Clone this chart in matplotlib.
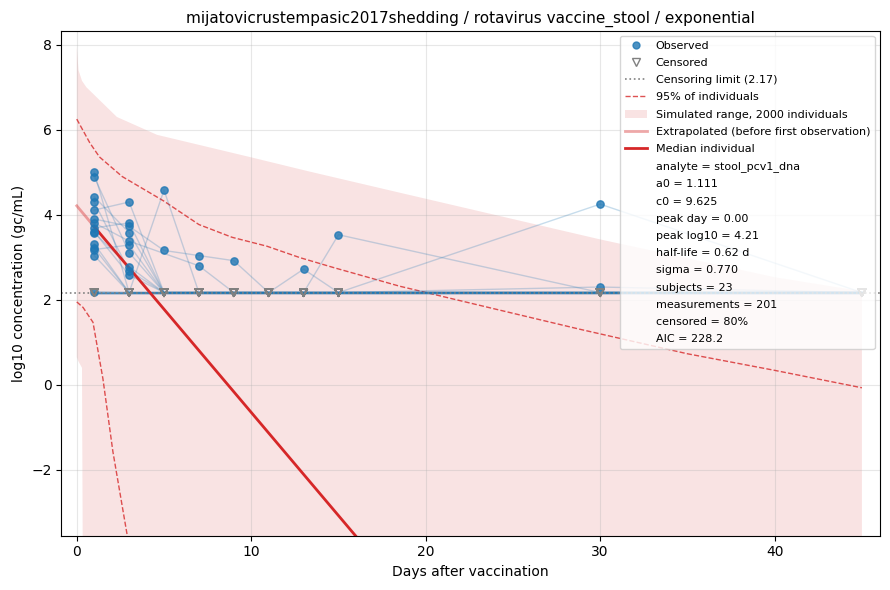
import numpy as np
import matplotlib
matplotlib.use("Agg")
import matplotlib.pyplot as plt
from matplotlib.lines import Line2D
from matplotlib.patches import Patch

# Limite de censura (log10 gc/mL)
limite = 2.17
C = -99.0  # medicion censurada (bajo el limite)
NA = np.nan  # sin medicion

dias = [1, 3, 5, 7, 9, 11, 13, 15, 30, 45]

# Trayectorias por sujeto (23 sujetos)
sujetos = [
    [5.00, C, C, C, C, C, C, C, C, C],
    [4.89, 3.11, C, C, C, C, C, C, C, C],
    [4.42, 3.58, C, C, C, C, C, C, C, C],
    [4.30, 2.68, C, C, C, C, C, C, C, C],
    [4.11, 4.30, C, C, C, C, C, C, C, C],
    [3.90, 3.73, 3.16, 3.04, 2.92, C, 2.72, C, 4.25, C],
    [3.81, 3.38, NA, 2.80, C, C, C, C, C, C],
    [3.69, 3.81, C, C, C, C, C, C, C, C],
    [3.60, 2.58, C, C, C, C, C, C, C, C],
    [3.58, 2.78, C, C, C, C, C, C, C, C],
    [3.32, C, 4.58, C, C, C, C, C, C, C],
    [3.22, C, C, C, C, C, C, C, C, C],
    [3.18, 3.29, C, C, C, C, C, C, C, C],
    [3.04, C, C, C, C, C, C, C, C, C],
    [2.19, C, C, C, C, C, C, C, C, C],
    [C, C, C, C, C, C, C, 3.53, C, C],
    [C, C, C, C, C, C, C, C, 2.30, C],
    [C, C, C, C, C, C, C, C, C, C],
    [C, C, C, C, C, C, C, C, C, C],
    [C, C, C, C, C, C, C, C, C, C],
    [C, C, C, C, C, C, C, C, C, C],
    [C, C, C, C, C, C, C, C, C, C],
    [C, C, C, C, C, C, C, C, C, C],
]

# Rango simulado (2000 individuos)
banda_dias = [0, 0.1, 0.3, 0.55, 2.3, 4.6, 10, 13.3, 18.5, 30, 40, 45]
banda_sup = [7.95, 7.4, 7.15, 7.0, 6.3, 5.88, 5.35, 5.02, 4.52, 3.42, 2.53, 2.2]
banda_inf = [0.65, 0.55, 0.4, -25, -25, -25, -25, -25, -25, -25, -25, -25]

# Percentiles 95%
q_sup_dias = [0, 0.75, 1.3, 2.6, 5, 7, 8.9, 10.9, 12.8, 14.7, 18.5, 23.8, 28.8, 35, 40, 45]
q_sup = [6.25, 5.69, 5.36, 4.9, 4.32, 3.77, 3.47, 3.26, 2.99, 2.76, 2.32, 1.80, 1.31, 0.73, 0.34, -0.07]
q_inf_dias = [0, 0.36, 0.93, 1.5, 2.07, 2.85, 3.3]
q_inf = [1.95, 1.82, 1.47, 0.14, -1.57, -3.44, -4.5]

# Individuo mediano
extrap_dias = [0, 1]
extrap_val = [4.21, 3.72]
mediana_dias = [1, 45]
mediana_val = [3.72, -17.64]

texto_params = [
    "analyte = stool_pcv1_dna",
    "a0 = 1.111",
    "c0 = 9.625",
    "peak day = 0.00",
    "peak log10 = 4.21",
    "half-life = 0.62 d",
    "sigma = 0.770",
    "subjects = 23",
    "measurements = 201",
    "censored = 80%",
    "AIC = 228.2",
]

fig, ax = plt.subplots(figsize=(8.9, 5.9), dpi=100)

ax.fill_between(banda_dias, banda_inf, banda_sup, color="#d62728", alpha=0.13, linewidth=0)
ax.plot(q_sup_dias, q_sup, "--", color="#d62728", alpha=0.8, lw=1)
ax.plot(q_inf_dias, q_inf, "--", color="#d62728", alpha=0.8, lw=1)

obs_x, obs_y, cen_x = [], [], []
for vals in sujetos:
    xs, ys = [], []
    for d, v in zip(dias, vals):
        if np.isnan(v):
            continue
        if v == C:
            xs.append(d)
            ys.append(limite)
            cen_x.append(d)
        else:
            xs.append(d)
            ys.append(v)
            obs_x.append(d)
            obs_y.append(v)
    ax.plot(xs, ys, color="#1f77b4", alpha=0.25, lw=1)

ax.scatter(obs_x, obs_y, s=28, color="#1f77b4", alpha=0.8, zorder=3)
ax.scatter(cen_x, [limite] * len(cen_x), s=30, marker="v", facecolors="none",
           edgecolors="gray", linewidths=1, zorder=3)
ax.axhline(limite, color="gray", ls=":", lw=1.2)

ax.plot(extrap_dias, extrap_val, color="#d62728", alpha=0.4, lw=2)
ax.plot(mediana_dias, mediana_val, color="#d62728", lw=2)

ax.set_xlim(-0.88, 46.05)
ax.set_ylim(-3.55, 8.33)
ax.grid(alpha=0.3)
ax.set_title("mijatovicrustempasic2017shedding / rotavirus vaccine_stool / exponential", fontsize=11)
ax.set_xlabel("Days after vaccination")
ax.set_ylabel("log10 concentration (gc/mL)")

handles = [
    Line2D([], [], marker="o", ls="none", color="#1f77b4", alpha=0.8, markersize=5),
    Line2D([], [], marker="v", ls="none", markerfacecolor="none", markeredgecolor="gray", markersize=6),
    Line2D([], [], color="gray", ls=":", lw=1.2),
    Line2D([], [], color="#d62728", ls="--", alpha=0.8, lw=1),
    Patch(color="#d62728", alpha=0.13, linewidth=0),
    Line2D([], [], color="#d62728", alpha=0.4, lw=2),
    Line2D([], [], color="#d62728", lw=2),
]
labels = [
    "Observed",
    "Censored",
    "Censoring limit (2.17)",
    "95% of individuals",
    "Simulated range, 2000 individuals",
    "Extrapolated (before first observation)",
    "Median individual",
]
for t in texto_params:
    handles.append(Line2D([], [], ls="none"))
    labels.append(t)
ax.legend(handles, labels, loc="upper right", fontsize=8, labelspacing=0.65)

plt.subplots_adjust(left=0.069, right=0.989, top=0.948, bottom=0.092)
plt.savefig("out.png")
